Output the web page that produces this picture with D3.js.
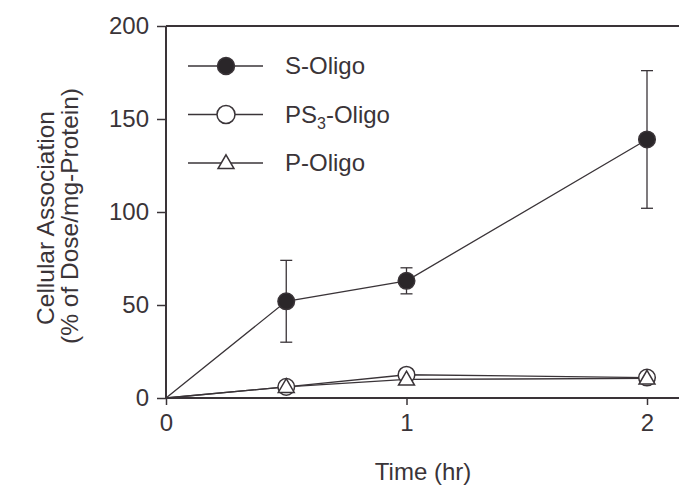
<!DOCTYPE html>
<html>
<head>
<meta charset="utf-8">
<script src="https://cdn.jsdelivr.net/npm/d3@7"></script>
<style>
body { margin: 0; background: #fff; }
text { font-family: "Liberation Sans", Arial, sans-serif; fill: #3a3438; }
</style>
</head>
<body>
<div id="chart"></div>
<script>
// data
const times = [0, 0.5, 1, 2];
const sOligo = [0, 52, 63, 139];
const sErrLow = [0, 30, 56, 102];
const sErrHigh = [0, 74, 70, 176];
const ps3Oligo = [0, 6, 12.5, 11];
const pOligo = [0, 6, 10, 10.5];
const xTicks = [0, 1, 2];
const yTicks = [0, 50, 100, 150, 200];

const W = 679, H = 486;
const ink = "#3a3438";

const svg = d3.select("#chart").append("svg")
  .attr("width", W).attr("height", H);

const x = d3.scaleLinear().domain([0, 2]).range([166, 647]);
const y = d3.scaleLinear().domain([0, 200]).range([398, 26]);

// axes
const yAxis = svg.append("g")
  .attr("transform", `translate(${x(0)},0)`)
  .call(d3.axisLeft(y).tickValues(yTicks).tickSize(9).tickPadding(8));
const xAxis = svg.append("g")
  .attr("transform", `translate(0,${y(0)})`)
  .call(d3.axisBottom(x).tickValues(xTicks).tickFormat(d3.format("d")).tickSize(7).tickPadding(9));
[yAxis, xAxis].forEach(g => {
  g.attr("font-size", 24);
  g.select(".domain").remove();
  g.selectAll("line").attr("stroke", ink).attr("stroke-width", 1.5);
  g.selectAll("text").style("fill", ink);
});

// frame lines (y axis, x axis out to the edge, top line)
svg.append("line").attr("x1", x(0)).attr("x2", x(0)).attr("y1", y(200)).attr("y2", y(0))
  .attr("stroke", ink).attr("stroke-width", 2);
svg.append("line").attr("x1", x(0)).attr("x2", W).attr("y1", y(0)).attr("y2", y(0))
  .attr("stroke", ink).attr("stroke-width", 2);
svg.append("line").attr("x1", x(0)).attr("x2", W).attr("y1", y(200)).attr("y2", y(200))
  .attr("stroke", ink).attr("stroke-width", 2);

const line = d3.line().x(d => x(d[0])).y(d => y(d[1]));

// lines
[pOligo, ps3Oligo, sOligo].forEach(vals => {
  svg.append("path")
    .datum(times.map((t, i) => [t, vals[i]]))
    .attr("fill", "none").attr("stroke", ink).attr("stroke-width", 1.3)
    .attr("d", line);
});

// error bars for S-Oligo
const eb = svg.append("g").attr("stroke", ink).attr("stroke-width", 1.3);
times.forEach((t, i) => {
  if (sErrHigh[i] === sErrLow[i]) return;
  eb.append("line").attr("x1", x(t)).attr("x2", x(t)).attr("y1", y(sErrLow[i])).attr("y2", y(sErrHigh[i]));
  [sErrLow[i], sErrHigh[i]].forEach(v => {
    eb.append("line").attr("x1", x(t) - 6).attr("x2", x(t) + 6).attr("y1", y(v)).attr("y2", y(v));
  });
});

const tri = d3.symbol().type(d3.symbolTriangle).size(110);

function drawCircle(g, cx, cy, filled, r) {
  g.append("circle").attr("cx", cx).attr("cy", cy).attr("r", r)
    .attr("fill", filled ? "#2a2629" : "#fff").attr("stroke", ink).attr("stroke-width", 1.5);
}
function drawTri(g, cx, cy) {
  g.append("path").attr("d", tri).attr("transform", `translate(${cx},${cy + 1})`)
    .attr("fill", "#fff").attr("stroke", ink).attr("stroke-width", 1.5);
}

// markers (skip origin)
const mk = svg.append("g");
times.forEach((t, i) => {
  if (t === 0) return;
  drawCircle(mk, x(t), y(ps3Oligo[i]), false, 8.3);
  drawTri(mk, x(t), y(pOligo[i]));
  drawCircle(mk, x(t), y(sOligo[i]), true, 8.3);
});

// legend
const legendItems = [
  {name: "S-Oligo", kind: "filled"},
  {name: "PS3-Oligo", kind: "open"},
  {name: "P-Oligo", kind: "tri"}
];
const lg = svg.append("g");
legendItems.forEach((d, i) => {
  const ly = 66 + i * 48.5;
  lg.append("line").attr("x1", 188).attr("x2", 263).attr("y1", ly).attr("y2", ly)
    .attr("stroke", ink).attr("stroke-width", 1.3);
  if (d.kind === "filled") drawCircle(lg, 226, ly, true, 8.5);
  else if (d.kind === "open") drawCircle(lg, 226, ly, false, 9);
  else drawTri(lg, 226, ly);
  const t = lg.append("text").attr("x", 285).attr("y", ly + 8).attr("font-size", 24);
  if (d.name === "PS3-Oligo") {
    t.append("tspan").text("PS");
    t.append("tspan").attr("font-size", 16).attr("dy", 6).text("3");
    t.append("tspan").attr("dy", -6).text("-Oligo");
  } else {
    t.text(d.name);
  }
});

// axis titles
svg.append("text").attr("x", 423).attr("y", 480).attr("text-anchor", "middle")
  .attr("font-size", 24).text("Time (hr)");
svg.append("text").attr("transform", "translate(54,218) rotate(-90)")
  .attr("text-anchor", "middle").attr("font-size", 24.5).text("Cellular Association");
svg.append("text").attr("transform", "translate(78,216) rotate(-90)")
  .attr("text-anchor", "middle").attr("font-size", 24.5).text("(% of Dose/mg-Protein)");
</script>
</body>
</html>
